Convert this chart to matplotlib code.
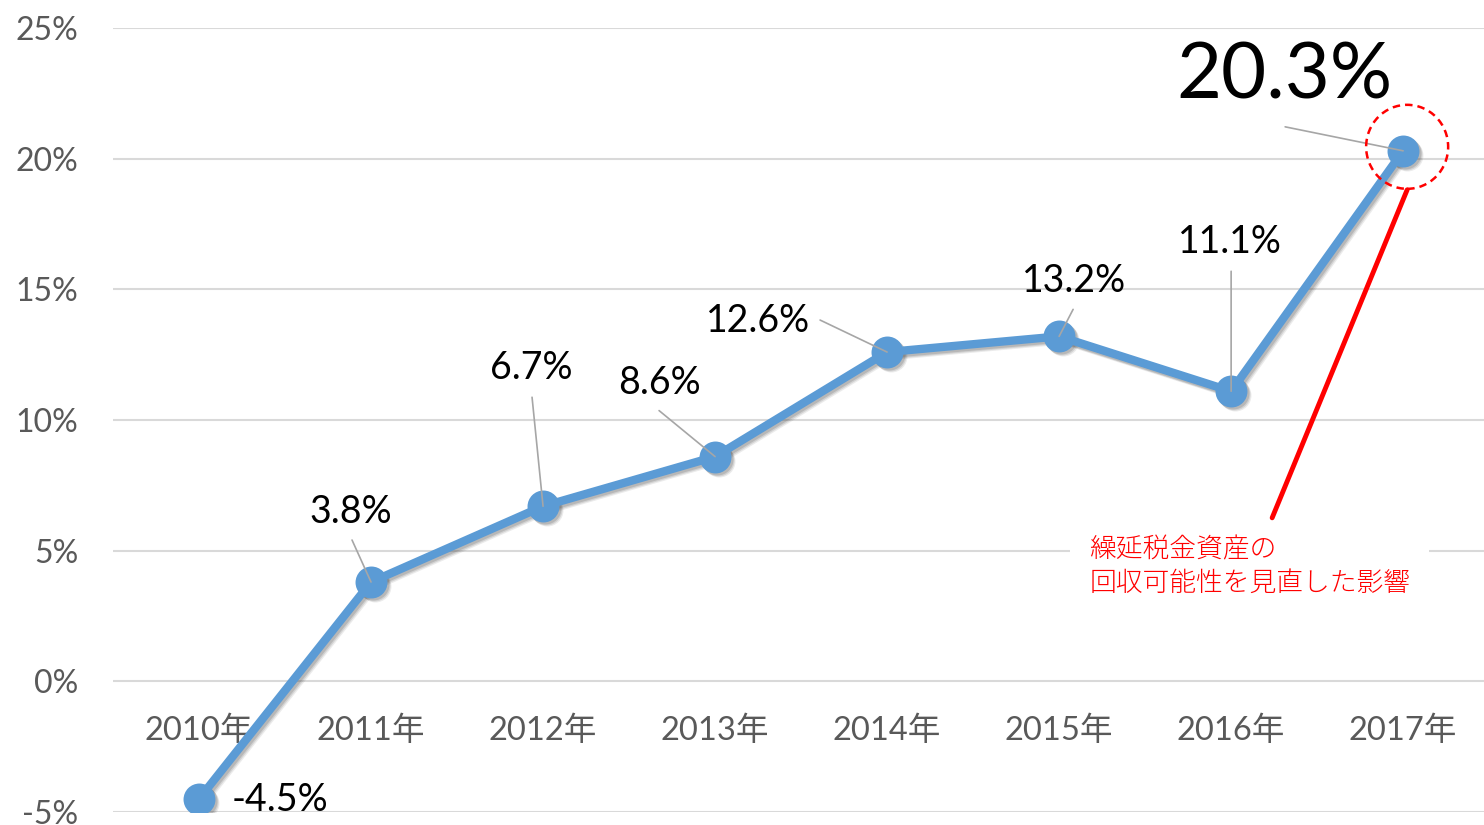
import matplotlib
matplotlib.use("Agg")
import matplotlib.pyplot as plt
import matplotlib.transforms as mtransforms
from matplotlib.patches import Ellipse

years = ["2010年", "2011年", "2012年", "2013年", "2014年", "2015年", "2016年", "2017年"]
values = [-4.5, 3.8, 6.7, 8.6, 12.6, 13.2, 11.1, 20.3]
labels = ["-4.5%", "3.8%", "6.7%", "8.6%", "12.6%", "13.2%", "11.1%", "20.3%"]
yticks = [-5, 0, 5, 10, 15, 20, 25]
ytick_labels = ["-5%", "0%", "5%", "10%", "15%", "20%", "25%"]
note = "繰延税金資産の\n回収可能性を見直した影響"

# label centre offsets (pixels) from each point, and leader-line start offsets
label_offsets = [(81, -1), (-20, 70), (-12, 138), (-56, 74), (-129, 31), (15, 55), (-1, 149), (-119, 74)]
leader_starts = [None, (-19, 42), (-11, 109), (-56, 46), (-67, 32), (14, 27), (0, 120), (-118, 24)]

NUM_FONT = ["Lato", "Noto Sans CJK JP", "DejaVu Sans"]
CJK_FONT = ["Noto Sans CJK JP", "DejaVu Sans"]
GRAY = "#595959"
BLUE = "#5B9BD5"

fig = plt.figure(figsize=(14.84, 8.25), dpi=100)
ax = fig.add_axes([113 / 1484, 13 / 825, 1371 / 1484, 784 / 825])
ax.set_xlim(-0.5, 7.47)
ax.set_ylim(-5, 25)

for s in ax.spines.values():
    s.set_visible(False)
ax.set_yticks(yticks)
ax.set_yticklabels(ytick_labels, fontfamily=NUM_FONT, fontsize=23, color=GRAY)
ax.tick_params(axis="y", length=0, pad=25)
ax.set_xticks([])
ax.grid(axis="y", color="#D9D9D9", linewidth=1.5)
ax.set_axisbelow(True)

x = list(range(len(values)))
# soft shadow
for dx, a in [(4, 0.10), (3, 0.14), (2, 0.18)]:
    shadow_tr = mtransforms.offset_copy(ax.transData, fig=fig, x=dx, y=-dx, units="dots")
    ax.plot(x, values, color="#404040", alpha=a, linewidth=6, marker="o", markersize=23,
            markeredgewidth=0, solid_joinstyle="round", transform=shadow_tr, zorder=2.5)
ax.plot(x, values, color=BLUE, linewidth=6, marker="o", markersize=23, markeredgewidth=0,
        solid_joinstyle="round", zorder=3)

# category labels drawn inside plot area just below 0%
for i, yr in enumerate(years):
    ax.text(i, -1.9, yr, ha="center", va="center", fontsize=23.5, color=GRAY,
            fontfamily=NUM_FONT, zorder=2)

# leader lines
for i, v in enumerate(values):
    if leader_starts[i] is None:
        continue
    ax.annotate("", xy=(i, v), xytext=leader_starts[i], textcoords="offset pixels",
                arrowprops=dict(arrowstyle="-", color="#A6A6A6", linewidth=1.2,
                                shrinkA=0, shrinkB=0), zorder=5)

# data labels
for i, (v, lab) in enumerate(zip(values, labels)):
    fs = 56 if i == len(values) - 1 else 27
    ax.annotate(lab, xy=(i, v), xytext=label_offsets[i], textcoords="offset pixels",
                ha="center", va="center", fontsize=fs, fontfamily=NUM_FONT, color="black",
                zorder=5)

# red callout line
red_start = mtransforms.offset_copy(ax.transData, fig=fig, x=4, y=-39, units="dots")
ax.annotate("", xy=(7, values[7]), xycoords=red_start,
            xytext=(-135, -328), textcoords="offset pixels",
            arrowprops=dict(arrowstyle="-", color="red", linewidth=3.5, shrinkA=0, shrinkB=0),
            zorder=6)

# dashed circle around 2017 point (in data units)
px_x = 1371 / 7.97
px_y = 784 / 30.0
ax.add_patch(Ellipse((7 + 4 / px_x, values[7] + 4 / px_y), 82 / px_x, 84 / px_y,
                     fill=False, edgecolor="red", linewidth=1.8, linestyle=(0, (3, 2)), zorder=6))

# note text
ax.annotate(note, xy=(7, values[7]), xytext=(-314, -415), textcoords="offset pixels",
            ha="left", va="center", fontsize=19.3, color="red", fontfamily=CJK_FONT,
            fontweight="light", linespacing=1.25, zorder=4,
            bbox=dict(boxstyle="square,pad=0.7", facecolor="white", edgecolor="none"))

fig.savefig("out.png", dpi=100, facecolor="white")
